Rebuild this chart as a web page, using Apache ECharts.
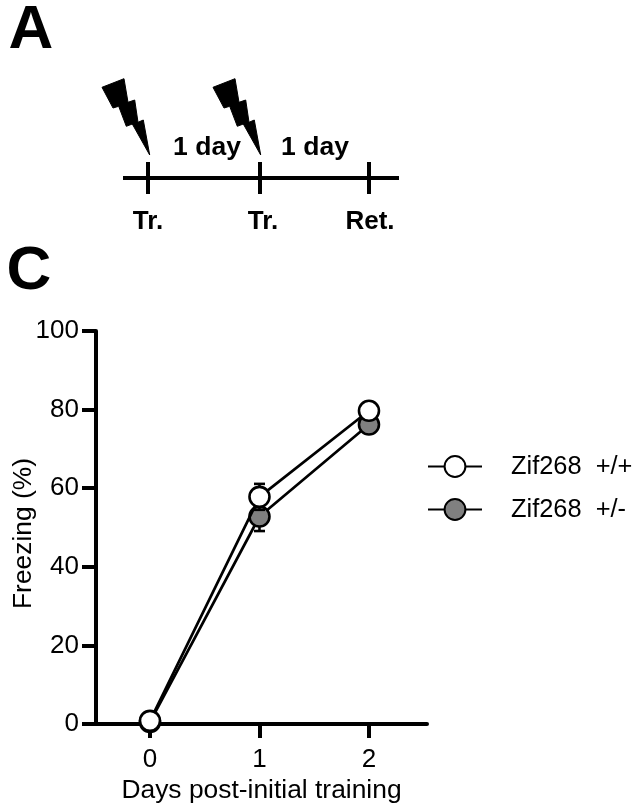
<!DOCTYPE html>
<html><head><meta charset="utf-8">
<style>html,body{margin:0;padding:0;background:#fff}#c{width:638px;height:811px}</style>
<script src="https://cdn.jsdelivr.net/npm/echarts@6/dist/echarts.min.js"></script>
</head><body><div id="c"></div>
<script>
const days = [0, 1, 2];
const wildType = [0.8, 57.8, 79.7];
const wildTypeErr = [0.4, 3.3, 0.8];
const het = [0.5, 52.8, 76.2];
const hetErr = [0.4, 3.7, 0.8];
const wildName = 'Zif268  +/+';
const hetName = 'Zif268  +/-';

const FONT = '"Liberation Sans", Arial, sans-serif';
const pairs = vals => days.map((d, i) => [d, vals[i]]);
const errTriples = (vals, errs) => days.map((d, i) => [d, vals[i] - errs[i], vals[i] + errs[i]]);

function errRender(params, api) {
  const x = api.value(0), lo = api.coord([x, api.value(1)]), hi = api.coord([x, api.value(2)]);
  const s = { stroke: '#000', lineWidth: 2.6, fill: 'none' }, c = 5.5;
  return { type: 'group', children: [
    { type: 'line', shape: { x1: lo[0], y1: lo[1], x2: hi[0], y2: hi[1] }, style: s },
    { type: 'line', shape: { x1: lo[0] - c, y1: lo[1], x2: lo[0] + c, y2: lo[1] }, style: s },
    { type: 'line', shape: { x1: hi[0] - c, y1: hi[1], x2: hi[0] + c, y2: hi[1] }, style: s }
  ]};
}
const lineSeries = (name, vals, fill, z) => ({
  type: 'line', name, data: pairs(vals), z, clip: false,
  symbol: 'circle', symbolSize: 20, showSymbol: true,
  lineStyle: { color: '#000', width: 2.7 },
  itemStyle: { color: fill, borderColor: '#000', borderWidth: 2.6 },
  emphasis: { disabled: true }, animation: false
});
const errSeries = (vals, errs, z) => ({
  type: 'custom', data: errTriples(vals, errs), renderItem: errRender, z, clip: false,
  encode: { x: 0, y: [1, 2] }, animation: false, silent: true
});

const bolt = [[102,87.3],[124,78.7],[128,102.3],[134.7,100],[138,122.3],[143.3,120],[149.7,155],[132.3,124],[126.3,126.3],[118.7,106.3],[113,108]];
const boltShape = dx => ({ type: 'polygon', shape: { points: bolt.map(p => [p[0] + dx, p[1]]) }, style: { fill: '#000', stroke: '#000', lineWidth: 1 } });
const hLine = (x1, y1, x2, y2) => ({ type: 'line', shape: { x1, y1, x2, y2 }, style: { stroke: '#000', lineWidth: 4 } });
const label = (text, x, y, size, weight) => ({
  type: 'text', x, y, style: { text, fill: '#000', font: `${weight || 'bold'} ${size}px ${FONT}`, align: 'center', verticalAlign: 'middle' }
});

const chart = echarts.init(document.getElementById('c'), null, { renderer: 'canvas' });
chart.setOption({
  animation: false,
  backgroundColor: '#fff',
  textStyle: { fontFamily: FONT },
  grid: { left: 96, right: 211, top: 331, bottom: 87, containLabel: false, outerBoundsMode: 'none' },
  xAxis: {
    type: 'value', min: -0.493, max: 2.53,
    name: 'Days post-initial training', nameLocation: 'middle', nameGap: 54,
    nameTextStyle: { fontSize: 26.4, color: '#000', fontFamily: FONT },
    axisLine: { onZero: false, lineStyle: { color: '#000', width: 4 } },
    axisTick: { length: 14, customValues: days, lineStyle: { color: '#000', width: 4 } },
    axisLabel: { customValues: days, fontSize: 26, color: '#000', margin: 23, fontFamily: FONT },
    splitLine: { show: false }
  },
  yAxis: {
    type: 'value', min: 0, max: 100, interval: 20,
    name: 'Freezing (%)', nameLocation: 'middle', nameGap: 59, nameMoveOverlap: false,
    nameTextStyle: { fontSize: 26.4, color: '#000', fontFamily: FONT, padding: [0, 12, 0, 0] },
    axisLine: { onZero: false, lineStyle: { color: '#000', width: 4 } },
    axisTick: { length: 14, lineStyle: { color: '#000', width: 4 } },
    axisLabel: { fontSize: 26, color: '#000', margin: 17, padding: [5, 0, 0, 0], fontFamily: FONT },
    splitLine: { show: false }
  },
  legend: {
    orient: 'vertical', left: 427, top: 454, padding: 0, itemWidth: 54, itemHeight: 26, itemGap: 18,
    data: [wildName, hetName], selectedMode: false,
    textStyle: { fontSize: 25.4, color: '#000', fontFamily: FONT, padding: [0, 0, 0, 24] }
  },
  series: [
    errSeries(het, hetErr, 2),
    lineSeries(hetName, het, '#808080', 3),
    errSeries(wildType, wildTypeErr, 4),
    lineSeries(wildName, wildType, '#fff', 5)
  ],
  graphic: { elements: [
    label('A', 31, 31, 62),
    label('C', 29, 272, 62),
    boltShape(0), boltShape(111),
    hLine(123, 178, 399, 178),
    hLine(148, 162, 148, 194), hLine(260, 162, 260, 194), hLine(369, 162, 369, 194),
    label('1 day', 207, 148, 26.5), label('1 day', 315, 148, 26.5),
    label('Tr.', 148, 222, 26), label('Tr.', 263, 222, 26), label('Ret.', 370, 222, 26)
  ]}
});
</script></body></html>
